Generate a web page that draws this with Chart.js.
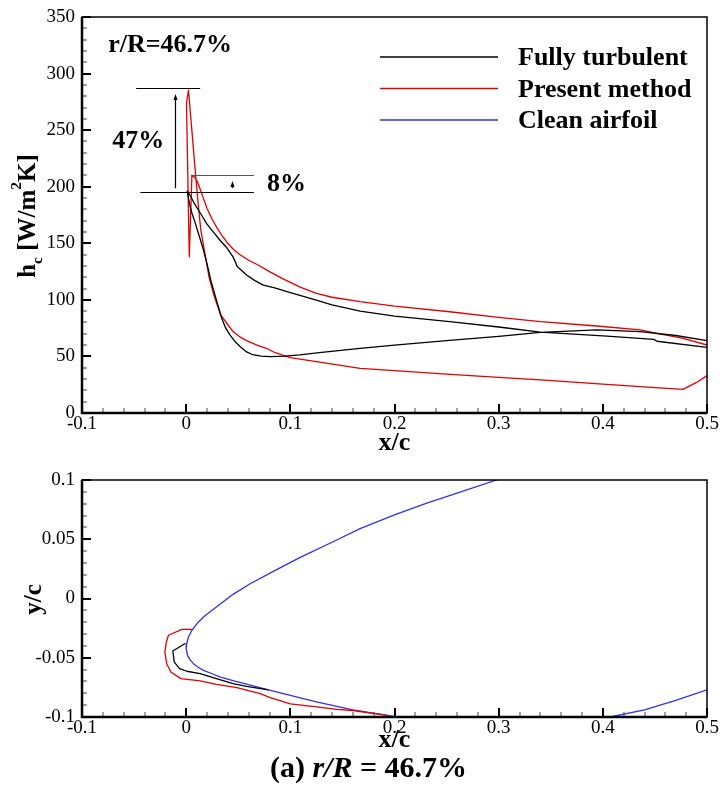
<!DOCTYPE html>
<html>
<head>
<meta charset="utf-8">
<script src="https://cdn.jsdelivr.net/npm/chart.js@4.4.1/dist/chart.umd.min.js"></script>
<style>
    body { margin: 0; background: #fff; }
    #wrap { position: relative; width: 720px; height: 785px; overflow: hidden; }
    canvas { position: absolute; left: 0; }
    #hc { top: 0; }
    #shape { top: 455px; }
    #caption { position: absolute; left: 0; top: 752px; width: 737px; text-align: center;
               font: bold 30px 'Liberation Serif', 'Times New Roman', serif; line-height: 30px; }
</style>
</head>
<body>
<div id="wrap">
    <canvas id="hc" width="720" height="455"></canvas>
    <canvas id="shape" width="720" height="330"></canvas>
    <div id="caption">(a) <i>r/R</i> = 46.7%</div>
</div>
<script>
const SERIF = "'Liberation Serif', 'Times New Roman', serif";

const seriesNames = ['Fully turbulent', 'Present method', 'Clean airfoil'];
const seriesColors = ['#000000', '#e00000', '#3030ee'];

// h_c along the surface (x/c), one loop per case: one side -> stagnation -> other side
const turbX = [0.5, 0.47, 0.436, 0.394, 0.34, 0.3, 0.25, 0.2, 0.167, 0.13, 0.109, 0.095, 0.081, 0.072, 0.064, 0.058, 0.052, 0.047, 0.042, 0.038, 0.034, 0.029, 0.024, 0.02, 0.016, 0.012, 0.008, 0.0055, 0.003, 0.001, 0.004, 0.008, 0.012, 0.016, 0.02, 0.026, 0.033, 0.039, 0.045, 0.047, 0.049, 0.052, 0.058, 0.066, 0.074, 0.085, 0.1, 0.12, 0.14, 0.167, 0.2, 0.253, 0.3, 0.34, 0.404, 0.449, 0.452, 0.5];
const turbH = [63.9, 68.5, 71.9, 73.4, 71.3, 67.8, 64, 60, 57.2, 53.5, 51.3, 50.2, 49.8, 50.3, 51.5, 54, 58.6, 63, 69, 75, 84, 100, 116, 132, 146, 158, 170, 176.5, 186, 196, 192, 185, 179, 173, 167, 160, 152, 146, 138, 134, 129.5, 127, 122, 117, 113, 110.5, 106.5, 101, 95.5, 90, 85.7, 80.7, 76, 71.5, 68, 65.1, 63.4, 58];

const presX = [0.5, 0.477, 0.452, 0.436, 0.394, 0.34, 0.3, 0.253, 0.2, 0.167, 0.14, 0.125, 0.11, 0.093, 0.08, 0.069, 0.06, 0.052, 0.045, 0.04, 0.035, 0.03, 0.025, 0.02, 0.016, 0.0134, 0.011, 0.0085, 0.0055, 0.003, 0.0003, 0.0022, 0.005, 0.008, 0.011, 0.014, 0.018, 0.022, 0.027, 0.033, 0.04, 0.045, 0.052, 0.058, 0.068, 0.077, 0.085, 0.092, 0.1, 0.125, 0.167, 0.2, 0.25, 0.3, 0.34, 0.4, 0.45, 0.477, 0.49, 0.5];
const presH = [60.1, 66, 70.4, 73.4, 76.9, 80.7, 84.5, 89.5, 94.5, 98.4, 102.3, 105.8, 111, 118.5, 125, 130.8, 135, 139.7, 145, 150, 156, 163, 171, 181, 191, 198, 204, 208, 210, 138, 274, 285.5, 255, 222, 190, 162, 141, 120, 103, 87, 78, 72, 67, 64, 60, 57.2, 53.5, 51.3, 49, 45.4, 39.5, 37.4, 34.4, 31.5, 29.2, 25.5, 22.5, 20.9, 27, 33];

// airfoil and ice shapes (x/c, y/c)
const cleanX = [0.33, 0.298, 0.26, 0.231, 0.2, 0.167, 0.14, 0.109, 0.085, 0.061, 0.045, 0.029, 0.018, 0.0118, 0.0055, 0.0022, 0.0006, 0, 0.0013, 0.004, 0.007, 0.0115, 0.0167, 0.025, 0.033, 0.045, 0.058, 0.078, 0.1, 0.125, 0.16, 0.193, 0.25, 0.3, 0.35, 0.407, 0.44, 0.47, 0.5];
const cleanY = [0.108, 0.1, 0.089, 0.0804, 0.0705, 0.059, 0.0475, 0.0345, 0.0235, 0.0122, 0.0035, -0.0071, -0.0145, -0.0198, -0.0268, -0.0325, -0.038, -0.0423, -0.048, -0.052, -0.055, -0.058, -0.0606, -0.0635, -0.0663, -0.0693, -0.0722, -0.0768, -0.0818, -0.0873, -0.094, -0.0986, -0.106, -0.109, -0.108, -0.1, -0.094, -0.086, -0.077];

const turbShapeX = [-0.001, -0.0128, -0.0115, -0.0064, 0.0006, 0.0134, 0.029, 0.045, 0.058, 0.079];
const turbShapeY = [-0.038, -0.0443, -0.0535, -0.0591, -0.0614, -0.0634, -0.0676, -0.0718, -0.0741, -0.0772];

const presShapeX = [0.0055, -0.0041, -0.017, -0.019, -0.0205, -0.0187, -0.0147, -0.0051, 0.0134, 0.029, 0.0487, 0.071, 0.0806, 0.1, 0.125, 0.145, 0.16, 0.193];
const presShapeY = [-0.026, -0.026, -0.031, -0.0367, -0.045, -0.055, -0.062, -0.0676, -0.0696, -0.0724, -0.0752, -0.0803, -0.0837, -0.089, -0.0915, -0.0935, -0.0945, -0.0986];

// peak markers: horizontal levels and arrows (x/c, h_c)
const markH = [287, 210, 195];
const markX0 = [-0.048, 0.0045, -0.044];
const markX1 = [0.0134, 0.065, 0.065];
const arrowX = [-0.0112, 0.0444];
const arrowH0 = [198.6, 198.8];
const arrowH1 = [282, 205];
const noteText = ['r/R=46.7%', '47%', '8%'];

const pts = (xs, ys) => xs.map((v, i) => ({ x: v, y: ys[i] }));
const fmt = v => String(+(+v).toFixed(3));

function series(i, data) {
    return { label: seriesNames[i], data, borderColor: seriesColors[i], borderWidth: 1.3,
             pointRadius: 0, showLine: true, tension: 0, borderJoinStyle: 'round' };
}

function drawParts(ctx, parts, size) {
    const sz = p => p[1] ? size * 0.62 : size;
    ctx.textAlign = 'left';
    ctx.textBaseline = 'alphabetic';
    let w = 0;
    parts.forEach(p => { ctx.font = `bold ${sz(p)}px ${SERIF}`; w += ctx.measureText(p[0]).width; });
    let cx = -w / 2;
    parts.forEach(p => {
        ctx.font = `bold ${sz(p)}px ${SERIF}`;
        const dy = p[1] === 'sub' ? size * 0.26 : p[1] === 'sup' ? -size * 0.56 : 0;
        ctx.fillText(p[0], cx, dy);
        cx += ctx.measureText(p[0]).width;
    });
}

// box, inward ticks and axis titles
function makeFrame(cfg) {
    return {
        id: 'frame',
        afterDraw(chart) {
            const { ctx, chartArea: a } = chart;
            const sx = chart.scales.x, sy = chart.scales.y;
            ctx.save();
            ctx.fillStyle = '#000';
            const nx = Math.round(0.6 / 0.02);
            for (let i = 0; i <= nx; i++) {
                const major = i % 5 === 0;
                const p = Math.round(sx.getPixelForValue(-0.1 + i * 0.02));
                const len = major ? 9 : 5, w = major ? 2 : 1;
                ctx.fillStyle = major ? '#000' : '#444';
                ctx.fillRect(p - w / 2, a.bottom - len, w, len);
            }
            const ny = Math.round((cfg.yMax - cfg.yMin) / cfg.yMinor);
            for (let i = 0; i <= ny; i++) {
                const major = i % 5 === 0;
                const p = Math.round(sy.getPixelForValue(cfg.yMin + i * cfg.yMinor));
                const len = major ? 9 : 5, w = major ? 2 : 1;
                ctx.fillStyle = major ? '#000' : '#444';
                ctx.fillRect(a.left, p - w / 2, len, w);
            }

            ctx.strokeStyle = '#000';
            ctx.lineWidth = 1.5;
            ctx.strokeRect(a.left, a.top, a.width, a.height);
            ctx.lineWidth = 2.5;
            ctx.beginPath();
            ctx.moveTo(a.left, a.top);
            ctx.lineTo(a.left, a.bottom);
            ctx.lineTo(a.right, a.bottom);
            ctx.stroke();

            ctx.fillStyle = '#000';
            ctx.font = `bold 26px ${SERIF}`;
            ctx.textAlign = 'center';
            ctx.textBaseline = 'alphabetic';
            ctx.fillText('x/c', (a.left + a.right) / 2, a.bottom + cfg.xTitleGap);

            ctx.translate(cfg.yTitleX, (a.top + a.bottom) / 2 + 1);
            ctx.rotate(-Math.PI / 2);
            drawParts(ctx, cfg.yTitle, 25);
            ctx.restore();
        }
    };
}

const peakNotes = {
    id: 'peakNotes',
    afterDatasetsDraw(chart) {
        const { ctx, chartArea: a, scales: { x, y } } = chart;
        ctx.save();
        ctx.lineWidth = 1.2;
        markH.forEach((h, i) => {
            ctx.strokeStyle = i === 1 ? '#555' : '#000';
            const py = Math.round(y.getPixelForValue(h)) + 0.5;
            ctx.beginPath();
            ctx.moveTo(x.getPixelForValue(markX0[i]), py);
            ctx.lineTo(x.getPixelForValue(markX1[i]), py);
            ctx.stroke();
        });
        ctx.strokeStyle = '#000';
        ctx.fillStyle = '#000';
        arrowX.forEach((v, i) => {
            const px = Math.round(x.getPixelForValue(v)) + 0.5;
            const p0 = y.getPixelForValue(arrowH0[i]), p1 = y.getPixelForValue(arrowH1[i]);
            ctx.beginPath(); ctx.moveTo(px, p0); ctx.lineTo(px, p1 + 3); ctx.stroke();
            ctx.beginPath(); ctx.moveTo(px, p1); ctx.lineTo(px - 2, p1 + 6); ctx.lineTo(px + 2, p1 + 6);
            ctx.closePath(); ctx.fill();
        });

        ctx.font = `bold 26px ${SERIF}`;
        ctx.textAlign = 'left';
        ctx.textBaseline = 'alphabetic';
        const notePos = [[-0.0749, 319], [-0.071, 234], [0.0777, 196.5]];
        noteText.forEach((t, i) => ctx.fillText(t, x.getPixelForValue(notePos[i][0]), y.getPixelForValue(notePos[i][1])));

        seriesNames.forEach((name, i) => {
            const ly = a.top + 40 + i * 31.5;
            ctx.strokeStyle = seriesColors[i];
            ctx.lineWidth = 1.6;
            ctx.beginPath(); ctx.moveTo(a.right - 327, ly); ctx.lineTo(a.right - 209, ly); ctx.stroke();
            ctx.fillText(name, a.right - 189, ly + 8);
        });
        ctx.restore();
    }
};

function scales(yMin, yMax, yStep, xAxisHeight) {
    const font = { family: SERIF, size: 19 };
    const grid = { display: false, drawTicks: false, tickLength: 0 };
    const fit = size => s => {
        s.paddingLeft = s.paddingRight = s.paddingTop = s.paddingBottom = 0;
        if (s.isHorizontal()) s.height = size; else s.width = size;
    };
    return {
        x: { type: 'linear', min: -0.1, max: 0.5, grid, border: { display: false },
             ticks: { stepSize: 0.1, padding: 0, color: '#000', font, maxRotation: 0, autoSkip: false, callback: fmt },
             afterFit: fit(xAxisHeight) },
        y: { type: 'linear', min: yMin, max: yMax, grid, border: { display: false },
             ticks: { stepSize: yStep, padding: 7, color: '#000', font, autoSkip: false, callback: fmt },
             afterFit: fit(82) }
    };
}

const common = {
    responsive: false,
    animation: false,
    events: [],
    plugins: { legend: { display: false }, tooltip: { enabled: false } }
};

new Chart(document.getElementById('hc'), {
    type: 'scatter',
    data: { datasets: [series(0, pts(turbX, turbH)), series(1, pts(presX, presH))] },
    options: {
        ...common,
        layout: { padding: { top: 17, right: 13, left: 0, bottom: 0 } },
        scales: scales(0, 350, 50, 42)
    },
    plugins: [peakNotes, makeFrame({ yMin: 0, yMax: 350, yMinor: 10, xTitleGap: 37, yTitleX: 35,
                          yTitle: [['h'], ['c', 'sub'], [' [W/m'], ['2', 'sup'], ['K]']] })]
});

new Chart(document.getElementById('shape'), {
    type: 'scatter',
    data: { datasets: [series(1, pts(presShapeX, presShapeY)), series(0, pts(turbShapeX, turbShapeY)),
                       series(2, pts(cleanX, cleanY))] },
    options: {
        ...common,
        layout: { padding: { top: 25, right: 13, left: 0, bottom: 0 } },
        scales: scales(-0.1, 0.1, 0.05, 68)
    },
    plugins: [makeFrame({ yMin: -0.1, yMax: 0.1, yMinor: 0.01, xTitleGap: 30, yTitleX: 41,
                          yTitle: [['y/c']] })]
});
</script>
</body>
</html>
